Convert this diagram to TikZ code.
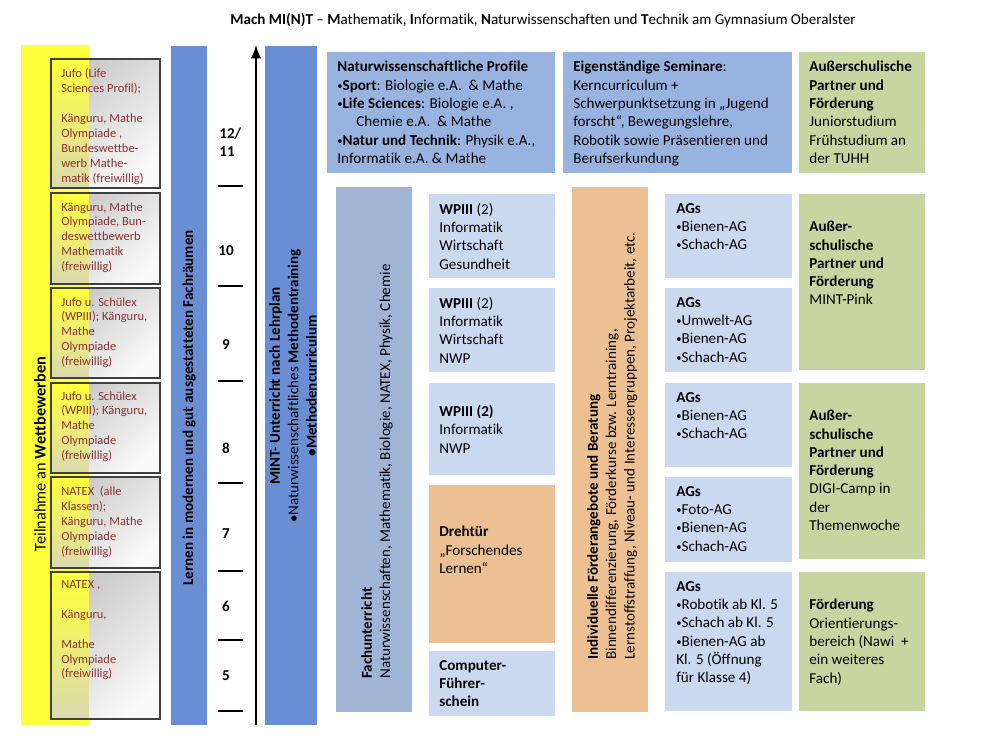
\documentclass[tikz,border=0pt]{standalone}
\usepackage{fontspec}
\setmainfont{Carlito}[Ligatures=CommonOff]
\usepackage{xcolor}
\usepackage{tikz}
\usetikzlibrary{positioning,calc}
\definecolor{gelb}{RGB}{255,255,60}
\definecolor{grau}{RGB}{208,208,208}
\definecolor{blauD}{RGB}{106,142,212}
\definecolor{blauM}{RGB}{152,179,224}
\definecolor{blauG}{RGB}{160,180,214}
\definecolor{blauH}{RGB}{202,216,240}
\definecolor{orangeH}{RGB}{236,192,146}
\definecolor{gruen}{RGB}{199,213,160}
\definecolor{rotT}{RGB}{140,50,50}
\newcommand{\pkt}{{\fontsize{6}{6}\selectfont\raisebox{0.5pt}{•}}}
\tikzset{
	txt/.style={font=\fontsize{8.6}{10.4}\selectfont, align=left, anchor=north west, inner sep=0pt},
	klein/.style={font=\fontsize{7.1}{8.5}\selectfont, align=left, anchor=north west, inner sep=0pt, text=rotT},
	wettb/.style={top color=black!22, bottom color=black!2, shading angle=45}
}

\begin{document}
\begin{tikzpicture}[x=0.02cm,y=-0.02cm]
\useasboundingbox (0,0) rectangle (1000,750);
\fill[white] (0,0) rectangle (1000,750);

%Titel
\node[font=\fontsize{8.6}{10.4}\selectfont] (titel) at (543,20) {\textbf{Mach MI(N)T} -- \textbf{M}athematik, \textbf{I}nformatik, \textbf{N}aturwissenschaften und \textbf{T}echnik am Gymnasium Oberalster};

%Wettbewerbe
\fill[gelb] (21,45) rectangle (89,725);
\node[rotate=90, font=\fontsize{9.3}{11}\selectfont] (teiln) at (40,454) {Teilnahme an \textbf{Wettbewerben}};
\foreach \a/\b in {59/188,193/284,288/378,383/473,477/568,572/719} {
	\shade[wettb] (51,\a) rectangle (160,\b);
}
\foreach \a/\b in {59/188,193/284,288/378,383/473,477/568,572/719} {
	\foreach \i in {0,...,19} {
		\pgfmathsetmacro{\ya}{\a+(\b-\a)*\i/20}
		\pgfmathsetmacro{\yb}{\a+(\b-\a)*(\i+1)/20+0.4}
		\pgfmathtruncatemacro{\p}{100-\i*4}
		\colorlet{bandfarbe}{gelb!\p!grau}
		\fill[bandfarbe] (51,\ya) rectangle (89,\yb);
	}
	\draw[black!75, line width=0.6pt] (51,\a) rectangle (160,\b);
}
\node[klein] (w1) at (61,68) {Jufo (Life\\Sciences Profil);\\[8.5pt]Känguru, Mathe\\Olympiade ,\\Bundeswettbe-\\werb Mathe-\\matik (freiwillig)};
\node[klein] (w2) at (61,202) {Känguru, Mathe\\Olympiade, Bun-\\deswettbewerb\\Mathematik\\(freiwillig)};
\node[klein] (w3) at (61,297) {Jufo u. Schülex\\(WPIII); Känguru,\\Mathe\\Olympiade\\(freiwillig)};
\node[klein] (w4) at (61,391) {Jufo u. Schülex\\(WPIII); Känguru,\\Mathe\\Olympiade\\(freiwillig)};
\node[klein] (w5) at (61,486) {NATEX\ \ (alle\\Klassen);\\Känguru, Mathe\\Olympiade\\(freiwillig)};
\node[klein] (w6) at (61,580) {NATEX ,\\[8.5pt]Känguru,\\[8.5pt]Mathe\\Olympiade\\(freiwillig)};

%Spalten links
\fill[blauD] (171,46) rectangle (207,725);
\node[rotate=90, font=\fontsize{8.6}{10.4}\selectfont\bfseries] (lernen) at (189,408) {Lernen in modernen und gut ausgestatteten Fachräumen};
\fill[blauD] (265,46) rectangle (317,725);
\node[txt, rotate=90, anchor=center, align=center] (mint) at (293,386) {\textbf{MINT- Unterricht nach Lehrplan}\\•Naturwissenschaftliches \textbf{Methodentraining}\\\textbf{•Methodencurriculum}};

%Klassenstufen
\coordinate (achseU) at (256,725);
\coordinate (achseO) at (256,45);
\draw[line width=1.6pt,-latex] (achseU) -- (achseO);
\foreach \y in {186,286,381,483,571,640,711} {
	\draw[line width=0.7pt] (218,\y) -- (243,\y);
}
\node[txt, anchor=west, font=\fontsize{8.6}{10.4}\selectfont\bfseries] (k12) at (219,142) {12/\\11};
\foreach \k/\y in {10/251,9/345,8/448,7/534,6/606,5/676} {
	\node[font=\fontsize{8.6}{10.4}\selectfont\bfseries] (k\k) at (226,\y) {\k};
}

%Oberstufe
\fill[blauM] (327,52) rectangle (555,173);
\fill[blauM] (563,52) rectangle (792,173);
\fill[gruen] (799,52) rectangle (925,173);
\node[txt] (profile) at (337,61) {\textbf{Naturwissenschaftliche Profile}\\\pkt\textbf{Sport}: Biologie e.A.\ \ \& Mathe\\\pkt\textbf{Life Sciences}: Biologie e.A. ,\\\hspace*{10.8pt}Chemie e.A.\ \ \& Mathe\\\pkt\textbf{Natur und Technik}: Physik e.A.,\\Informatik e.A. \& Mathe};
\node[txt] (seminare) at (573,61) {\textbf{Eigenständige Seminare}:\\Kerncurriculum +\\Schwerpunktsetzung in „Jugend\\forscht“, Bewegungslehre,\\Robotik sowie Präsentieren und\\Berufserkundung};
\node[txt] (partner1) at (809,61) {\textbf{Außerschulische}\\\textbf{Partner und}\\\textbf{Förderung}\\Juniorstudium\\Frühstudium an\\der TUHH};

%Fachunterricht und Foerderung
\fill[blauG] (336,187) rectangle (412,712);
\node[txt, rotate=90] (fach) at (361,679) {\textbf{Fachunterricht}\\Naturwissenschaften, Mathematik, Biologie, NATEX, Physik, Chemie};
\fill[orangeH] (572,187) rectangle (648,712);
\node[txt, rotate=90] (foerd) at (587,660) {\textbf{Individuelle Förderangebote und Beratung}\\Binnendifferenzierung, Förderkurse bzw. Lerntraining,\\Lernstoffstraffung, Niveau- und Interessengruppen, Projektarbeit, etc.};

%WPIII
\foreach \a/\b in {194/278,288/372,383/475,651/716} {
	\fill[blauH] (429,\a) rectangle (555,\b);
}
\fill[orangeH] (429,485) rectangle (555,643);
\node[txt] (wp1) at (439,203) {\textbf{WPIII} (2)\\Informatik\\Wirtschaft\\Gesundheit};
\node[txt] (wp2) at (439,297) {\textbf{WPIII} (2)\\Informatik\\Wirtschaft\\NWP};
\node[txt] (wp3) at (439,405) {\textbf{WPIII (2)}\\Informatik\\NWP};
\node[txt] (dreh) at (439,526) {\textbf{Drehtür}\\„Forschendes\\Lernen“};
\node[txt] (comp) at (439,660) {\textbf{Computer-}\\\textbf{Führer-}\\\textbf{schein}};

%AGs
\foreach \a/\b in {194/278,288/372,383/467,477/562,572/711} {
	\fill[blauH] (665,\a) rectangle (792,\b);
}
\node[txt] (ag1) at (676,203) {\textbf{AGs}\\\pkt Bienen-AG\\\pkt Schach-AG};
\node[txt] (ag2) at (676,297) {\textbf{AGs}\\\pkt Umwelt-AG\\\pkt Bienen-AG\\\pkt Schach-AG};
\node[txt] (ag3) at (676,392) {\textbf{AGs}\\\pkt Bienen-AG\\\pkt Schach-AG};
\node[txt] (ag4) at (676,486) {\textbf{AGs}\\\pkt Foto-AG\\\pkt Bienen-AG\\\pkt Schach-AG};
\node[txt] (ag5) at (676,581) {\textbf{AGs}\\\pkt Robotik ab Kl. 5\\\pkt Schach ab Kl. 5\\\pkt Bienen-AG ab\\Kl. 5 (Öffnung\\für Klasse 4)};

%Partner
\foreach \a/\b in {194/370,383/559,572/711} {
	\fill[gruen] (799,\a) rectangle (925,\b);
}
\node[txt] (partner2) at (809,221) {\textbf{Außer-}\\\textbf{schulische}\\\textbf{Partner und}\\\textbf{Förderung}\\MINT-Pink};
\node[txt] (partner3) at (809,410) {\textbf{Außer-}\\\textbf{schulische}\\\textbf{Partner und}\\\textbf{Förderung}\\DIGI-Camp in\\der\\Themenwoche};
\node[txt] (partner4) at (809,599) {\textbf{Förderung}\\Orientierungs-\\bereich (Nawi\ \ +\\ein weiteres\\Fach)};

\end{tikzpicture}
\end{document}
